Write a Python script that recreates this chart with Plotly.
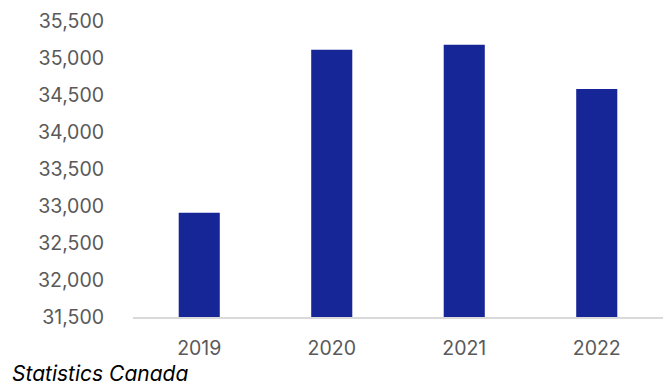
import plotly.graph_objects as go

years = ["2019", "2020", "2021", "2022"]
values = [32910, 35110, 35180, 34580]
tick_vals = [31500, 32000, 32500, 33000, 33500, 34000, 34500, 35000, 35500]
tick_text = ["31,500", "32,000", "32,500", "33,000", "33,500", "34,000", "34,500", "35,000", "35,500"]
source = "Statistics Canada"

fig = go.Figure(go.Bar(x=years, y=values, marker=dict(color="#172696", line=dict(width=0))))
fig.update_layout(
    width=665, height=390,
    margin=dict(l=133, r=2, t=21, b=73),
    paper_bgcolor="white", plot_bgcolor="white",
    bargap=0.69,
    showlegend=False,
    font=dict(family="Inter", size=19, color="#595959"),
)
fig.update_yaxes(range=[31500, 35500], tickvals=tick_vals, ticktext=tick_text,
                 showgrid=False, zeroline=False, showline=False, ticks="",
                 ticklabelstandoff=28, tickfont=dict(size=19.5, color="#595959"))
fig.update_xaxes(showline=True, linecolor="#d9d9d9", linewidth=2, ticks="",
                 showgrid=False, tickfont=dict(size=19.5, color="#595959"), ticklabelstandoff=13)
fig.add_annotation(text=source, xref="paper", yref="paper", x=-123/530, y=-56/296,
                   xanchor="left", yanchor="middle", showarrow=False,
                   font=dict(family="Inter", size=21, color="#000000", style="italic"))
fig.write_html("out.html")
